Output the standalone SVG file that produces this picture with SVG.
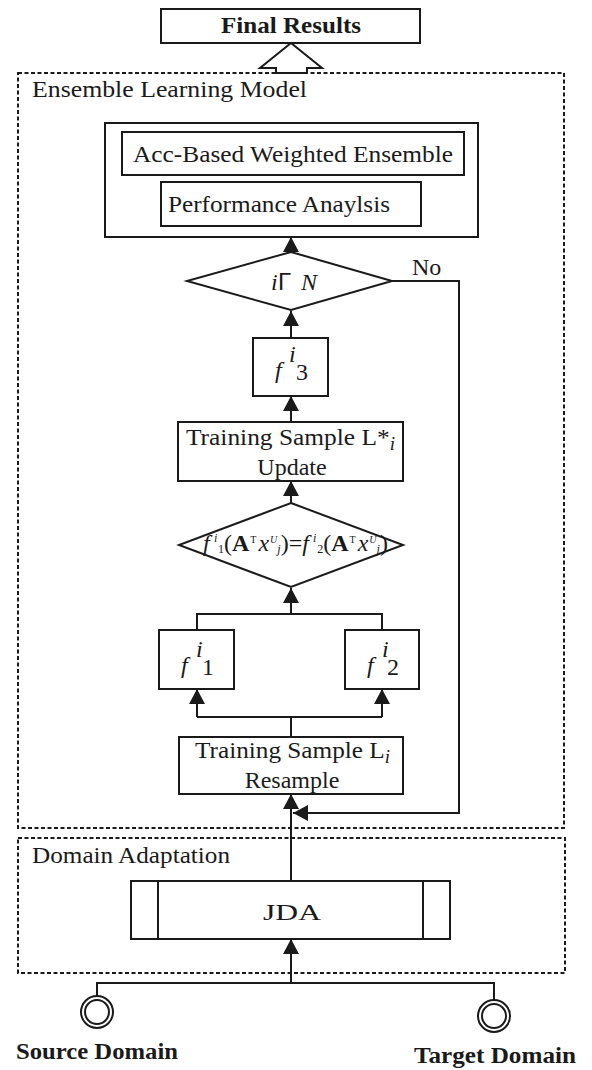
<svg xmlns="http://www.w3.org/2000/svg" width="592" height="1070" viewBox="0 0 592 1070">
  <style>
    .box { fill: #fff; stroke: #1a1a1a; stroke-width: 2; }
    .group { fill: none; stroke: #1a1a1a; stroke-width: 2; stroke-dasharray: 4 2.5; }
    .line { fill: none; stroke: #1a1a1a; stroke-width: 2; }
    .arrow { fill: none; stroke: #1a1a1a; stroke-width: 2; marker-end: url(#head); }
    text { font-family: "Liberation Serif", "Times New Roman", serif; fill: #1a1a1a; font-size: 24px; }
    .bold { font-weight: bold; }
    .it { font-style: italic; }
    .mid { text-anchor: middle; }
  </style>
  <defs>
    <marker id="head" markerUnits="userSpaceOnUse" markerWidth="15" markerHeight="16" refX="15" refY="8" orient="auto">
      <path d="M0,0 L15,8 L0,16 z" fill="#1a1a1a"/>
    </marker>
  </defs>

  <!-- group frames -->
  <g id="ensemble-frame">
    <rect class="group" x="18" y="73" width="546" height="755"/>
    <text x="32" y="97" font-size="23" textLength="275" lengthAdjust="spacingAndGlyphs">Ensemble  Learning Model</text>
  </g>
  <g id="domain-frame">
    <rect class="group" x="18" y="838" width="547" height="135"/>
    <text x="32" y="863" font-size="23" textLength="198" lengthAdjust="spacingAndGlyphs">Domain Adaptation</text>
  </g>

  <!-- output -->
  <g id="final-results">
    <rect class="box" x="161" y="9" width="259" height="34"/>
    <text class="bold mid" x="291" y="33" textLength="140" lengthAdjust="spacingAndGlyphs">Final Results</text>
  </g>

  <!-- hollow block arrow into the output -->
  <g id="output-arrow">
    <path class="box" d="M291,43 L322,68 L307,68 L307,73 L276,73 L276,68 L260,68 z"/>
  </g>

  <g id="ensemble-block">
    <rect class="box" x="105" y="123" width="373" height="114"/>
    <rect class="box" x="122" y="132" width="342" height="43"/>
    <text x="133" y="162" textLength="320" lengthAdjust="spacingAndGlyphs">Acc-Based Weighted Ensemble</text>
    <rect class="box" x="161" y="182" width="260" height="44"/>
    <text x="168" y="212" textLength="222" lengthAdjust="spacingAndGlyphs">Performance Anaylsis</text>
  </g>

  <g id="check-n">
    <polygon class="box" points="291,252 392,281 291,310 187,281"/>
    <text x="271" y="290" class="it">i</text>
    <text x="278" y="290" font-size="11" style="font-family:'Liberation Sans',Arial,sans-serif">Γ</text>
    <text x="301" y="290" class="it">N</text>
  </g>

  <g id="f3">
    <rect class="box" x="253" y="338" width="75" height="58"/>
    <text x="275" y="378" class="it">f</text>
    <text x="289" y="362" class="it" font-size="17">i</text>
    <text x="296" y="380" font-size="18">3</text>
  </g>

  <g id="update">
    <rect class="box" x="178" y="422" width="225" height="59"/>
    <text x="186" y="445" textLength="209" lengthAdjust="spacingAndGlyphs">Training Sample L*<tspan class="it" font-size="18" dy="5">i</tspan></text>
    <text class="mid" x="292" y="475">Update</text>
  </g>

  <g id="agree-check">
    <polygon class="box" points="291,503 403,545 291,587 179,545"/>
    <text y="551" font-size="17"><tspan class="it" x="203">f</tspan><tspan class="it" font-size="12" x="214" dy="-9">i</tspan><tspan font-size="12" x="218" dy="11">1</tspan><tspan dy="-2">(</tspan><tspan class="bold">A</tspan><tspan font-size="10" dy="-8" dx="1">T</tspan><tspan class="it" dy="8" dx="2">x</tspan><tspan class="it" font-size="10" dy="-8" dx="1">U</tspan><tspan class="it" font-size="12" dy="10">j</tspan><tspan dy="-2">)=</tspan><tspan class="it">f</tspan><tspan class="it" font-size="12" dy="-9" dx="4">i</tspan><tspan font-size="12" dy="11" dx="1">2</tspan><tspan dy="-2">(</tspan><tspan class="bold">A</tspan><tspan font-size="10" dy="-8" dx="1">T</tspan><tspan class="it" dy="8" dx="2">x</tspan><tspan class="it" font-size="10" dy="-8" dx="1">U</tspan><tspan class="it" font-size="12" dy="10">j</tspan><tspan dy="-2">)</tspan></text>
  </g>

  <g id="f1">
    <rect class="box" x="159" y="630" width="75" height="59"/>
    <text x="181" y="673" class="it">f</text>
    <text x="196" y="657" class="it" font-size="17">i</text>
    <text x="202" y="675" font-size="18">1</text>
  </g>

  <g id="f2">
    <rect class="box" x="345" y="630" width="74" height="59"/>
    <text x="367" y="673" class="it">f</text>
    <text x="382" y="657" class="it" font-size="17">i</text>
    <text x="387" y="675" font-size="18">2</text>
  </g>

  <g id="resample">
    <rect class="box" x="179" y="737" width="224" height="57"/>
    <text x="195" y="758" textLength="195" lengthAdjust="spacingAndGlyphs">Training Sample L<tspan class="it" font-size="18" dy="5">i</tspan></text>
    <text class="mid" x="292" y="788">Resample</text>
  </g>

  <g id="jda">
    <rect class="box" x="131" y="881" width="319" height="58"/>
    <line class="line" x1="158" y1="881" x2="158" y2="939"/>
    <line class="line" x1="423" y1="881" x2="423" y2="939"/>
    <text class="mid" x="292" y="920" font-size="29" textLength="58" lengthAdjust="spacingAndGlyphs">JDA</text>
  </g>

  <g id="source-domain">
    <circle class="box" cx="97" cy="1012" r="16"/>
    <circle class="box" cx="97" cy="1012" r="12"/>
    <text class="bold" x="16" y="1059" font-size="25" textLength="162" lengthAdjust="spacingAndGlyphs">Source Domain</text>
  </g>

  <g id="target-domain">
    <circle class="box" cx="494" cy="1016" r="16"/>
    <circle class="box" cx="494" cy="1016" r="12"/>
    <text class="bold" x="414" y="1063" font-size="25" textLength="162" lengthAdjust="spacingAndGlyphs">Target Domain</text>
  </g>

  <!-- connectors -->
  <g id="connectors">
    <line class="arrow" x1="291" y1="252" x2="291" y2="237"/>
    <line class="arrow" x1="291" y1="338" x2="291" y2="311"/>
    <line class="arrow" x1="291" y1="422" x2="291" y2="396"/>
    <line class="arrow" x1="291" y1="503" x2="291" y2="481"/>
    <polyline class="line" points="197,630 197,614 382,614 382,630"/>
    <line class="arrow" x1="291" y1="614" x2="291" y2="588"/>
    <line class="line" x1="291" y1="737" x2="291" y2="717"/>
    <line class="line" x1="197" y1="717" x2="382" y2="717"/>
    <line class="arrow" x1="197" y1="717" x2="197" y2="689"/>
    <line class="arrow" x1="382" y1="717" x2="382" y2="689"/>
    <line class="arrow" x1="291" y1="881" x2="291" y2="794"/>
    <polyline class="arrow" points="392,281 459,281 459,813 293,813"/>
    <text x="412" y="275" font-size="22">No</text>
    <line class="arrow" x1="291" y1="983" x2="291" y2="939"/>
    <polyline class="line" points="97,996 97,983 494,983 494,1000"/>
  </g>
</svg>
